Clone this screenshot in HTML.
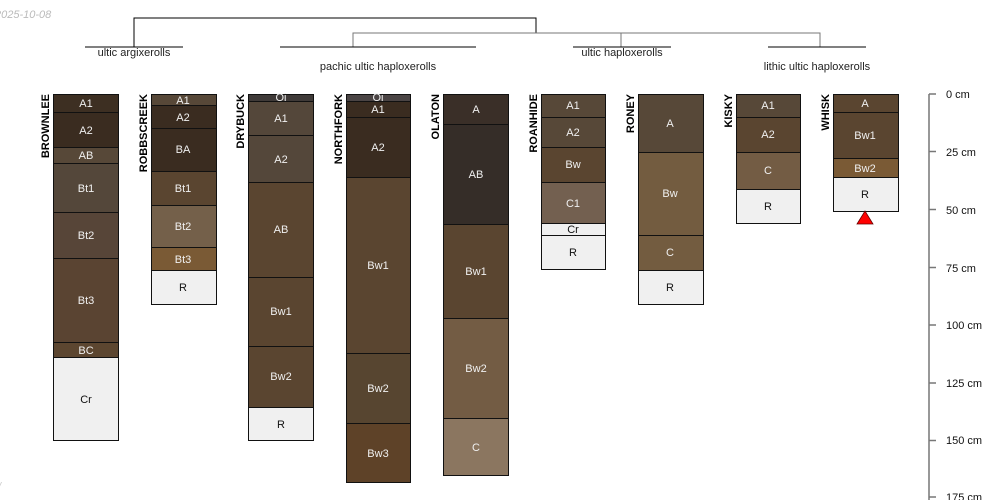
<!DOCTYPE html>
<html><head><meta charset="utf-8"><style>
html,body{margin:0;padding:0;background:#fff;width:1000px;height:500px;overflow:hidden}
svg{display:block;font-family:"Liberation Sans",sans-serif}
.h{font-size:11px;fill:#f0f0f0;text-anchor:middle}
.d{font-size:11px;fill:#111;text-anchor:middle}
.n{font-size:11px;font-weight:bold;fill:#000;text-anchor:end}
.g{font-size:11px;fill:#222;text-anchor:middle}
.ax{font-size:11px;fill:#111}
rect{stroke:#111;stroke-width:1}
</style></head><body>
<svg width="1000" height="500" viewBox="0 0 1000 500">
<text x="-5" y="18" style="font-size:11px;font-style:italic;fill:#bbb">2025-10-08</text>
<text x="-2" y="490" style="font-size:11px;font-style:italic;fill:#ccc">/</text>
<!-- dendrogram -->
<g fill="none" stroke-width="1">
<path d="M134,47V18H536V33" stroke="#000"/>
<path d="M353,47V33H820V47" stroke="#777"/>
<path d="M621,47V33" stroke="#777"/>
<path d="M85,47H183M280,47H476M573,47H671M768,47H866" stroke="#000"/>
</g>
<text class="g" x="134" y="56">ultic argixerolls</text>
<text class="g" x="378" y="70">pachic ultic haploxerolls</text>
<text class="g" x="622" y="56">ultic haploxerolls</text>
<text class="g" x="817" y="70">lithic ultic haploxerolls</text>

<!-- BROWNLEE -->
<g>
<rect x="53.5" y="94.5" width="65" height="18" fill="#3d2f22"/>
<rect x="53.5" y="112.5" width="65" height="35" fill="#3a2c20"/>
<rect x="53.5" y="147.5" width="65" height="16" fill="#574838"/>
<rect x="53.5" y="163.5" width="65" height="49" fill="#54473a"/>
<rect x="53.5" y="212.5" width="65" height="46" fill="#574538"/>
<rect x="53.5" y="258.5" width="65" height="84" fill="#5a4432"/>
<rect x="53.5" y="342.5" width="65" height="15" fill="#5c4630"/>
<rect x="53.5" y="357.5" width="65" height="83" fill="#f0f0f0"/>
<text class="h" x="86" y="107">A1</text><text class="h" x="86" y="134">A2</text><text class="h" x="86" y="159">AB</text>
<text class="h" x="86" y="192">Bt1</text><text class="h" x="86" y="239">Bt2</text><text class="h" x="86" y="304">Bt3</text>
<text class="h" x="86" y="354">BC</text><text class="d" x="86" y="403">Cr</text>
<text class="n" transform="translate(49,94) rotate(-90)">BROWNLEE</text>
</g>
<!-- ROBBSCREEK -->
<g>
<rect x="151.5" y="94.5" width="65" height="11" fill="#574838"/>
<rect x="151.5" y="105.5" width="65" height="23" fill="#3a2c20"/>
<rect x="151.5" y="128.5" width="65" height="43" fill="#3a2c20"/>
<rect x="151.5" y="171.5" width="65" height="34" fill="#5a4530"/>
<rect x="151.5" y="205.5" width="65" height="42" fill="#74604a"/>
<rect x="151.5" y="247.5" width="65" height="23" fill="#7a5a35"/>
<rect x="151.5" y="270.5" width="65" height="34" fill="#f0f0f0"/>
<text class="h" x="183" y="104">A1</text><text class="h" x="183" y="121">A2</text><text class="h" x="183" y="153">BA</text>
<text class="h" x="183" y="192">Bt1</text><text class="h" x="183" y="230">Bt2</text><text class="h" x="183" y="263">Bt3</text>
<text class="d" x="183" y="291">R</text>
<text class="n" transform="translate(147,94) rotate(-90)">ROBBSCREEK</text>
</g>
<!-- DRYBUCK -->
<g>
<rect x="248.5" y="94.5" width="65" height="7" fill="#3f3a38"/>
<rect x="248.5" y="101.5" width="65" height="34" fill="#54473a"/>
<rect x="248.5" y="135.5" width="65" height="47" fill="#54473a"/>
<rect x="248.5" y="182.5" width="65" height="95" fill="#5a4530"/>
<rect x="248.5" y="277.5" width="65" height="69" fill="#5a4530"/>
<rect x="248.5" y="346.5" width="65" height="61" fill="#5a4530"/>
<rect x="248.5" y="407.5" width="65" height="33" fill="#f0f0f0"/>
<text class="h" x="281" y="101">Oi</text><text class="h" x="281" y="122">A1</text><text class="h" x="281" y="163">A2</text>
<text class="h" x="281" y="233">AB</text><text class="h" x="281" y="315">Bw1</text><text class="h" x="281" y="380">Bw2</text>
<text class="d" x="281" y="428">R</text>
<text class="n" transform="translate(244,94) rotate(-90)">DRYBUCK</text>
</g>
<!-- NORTHFORK -->
<g>
<rect x="346.5" y="94.5" width="64" height="7" fill="#4a4444"/>
<rect x="346.5" y="101.5" width="64" height="16" fill="#3a2c20"/>
<rect x="346.5" y="117.5" width="64" height="60" fill="#3a2c20"/>
<rect x="346.5" y="177.5" width="64" height="176" fill="#5a4530"/>
<rect x="346.5" y="353.5" width="64" height="70" fill="#574530"/>
<rect x="346.5" y="423.5" width="64" height="59" fill="#5e4228"/>
<text class="h" x="378" y="101">Oi</text><text class="h" x="378" y="113">A1</text><text class="h" x="378" y="151">A2</text>
<text class="h" x="378" y="269">Bw1</text><text class="h" x="378" y="392">Bw2</text><text class="h" x="378" y="457">Bw3</text>
<text class="n" transform="translate(342,94) rotate(-90)">NORTHFORK</text>
</g>
<!-- OLATON -->
<g>
<rect x="443.5" y="94.5" width="65" height="30" fill="#3a2f28"/>
<rect x="443.5" y="124.5" width="65" height="100" fill="#352d28"/>
<rect x="443.5" y="224.5" width="65" height="94" fill="#5a4530"/>
<rect x="443.5" y="318.5" width="65" height="100" fill="#735c44"/>
<rect x="443.5" y="418.5" width="65" height="57" fill="#8b7660"/>
<text class="h" x="476" y="113">A</text><text class="h" x="476" y="178">AB</text><text class="h" x="476" y="275">Bw1</text>
<text class="h" x="476" y="372">Bw2</text><text class="h" x="476" y="451">C</text>
<text class="n" transform="translate(439,94) rotate(-90)">OLATON</text>
</g>
<!-- ROANHIDE -->
<g>
<rect x="541.5" y="94.5" width="64" height="23" fill="#574838"/>
<rect x="541.5" y="117.5" width="64" height="30" fill="#574838"/>
<rect x="541.5" y="147.5" width="64" height="35" fill="#5a4530"/>
<rect x="541.5" y="182.5" width="64" height="41" fill="#736050"/>
<rect x="541.5" y="223.5" width="64" height="12" fill="#f0f0f0"/>
<rect x="541.5" y="235.5" width="64" height="34" fill="#f0f0f0"/>
<text class="h" x="573" y="109">A1</text><text class="h" x="573" y="136">A2</text><text class="h" x="573" y="168">Bw</text>
<text class="h" x="573" y="207">C1</text><text class="d" x="573" y="233">Cr</text><text class="d" x="573" y="256">R</text>
<text class="n" transform="translate(537,94) rotate(-90)">ROANHIDE</text>
</g>
<!-- RONEY -->
<g>
<rect x="638.5" y="94.5" width="65" height="58" fill="#574838"/>
<rect x="638.5" y="152.5" width="65" height="83" fill="#735c40"/>
<rect x="638.5" y="235.5" width="65" height="35" fill="#735c40"/>
<rect x="638.5" y="270.5" width="65" height="34" fill="#f0f0f0"/>
<text class="h" x="670" y="127">A</text><text class="h" x="670" y="197">Bw</text><text class="h" x="670" y="256">C</text>
<text class="d" x="670" y="291">R</text>
<text class="n" transform="translate(634,94) rotate(-90)">RONEY</text>
</g>
<!-- KISKY -->
<g>
<rect x="736.5" y="94.5" width="64" height="23" fill="#574838"/>
<rect x="736.5" y="117.5" width="64" height="35" fill="#5a4530"/>
<rect x="736.5" y="152.5" width="64" height="37" fill="#735c44"/>
<rect x="736.5" y="189.5" width="64" height="34" fill="#f0f0f0"/>
<text class="h" x="768" y="109">A1</text><text class="h" x="768" y="138">A2</text><text class="h" x="768" y="174">C</text>
<text class="d" x="768" y="210">R</text>
<text class="n" transform="translate(732,94) rotate(-90)">KISKY</text>
</g>
<!-- WHISK -->
<g>
<rect x="833.5" y="94.5" width="65" height="18" fill="#5a4530"/>
<rect x="833.5" y="112.5" width="65" height="46" fill="#5a4530"/>
<rect x="833.5" y="158.5" width="65" height="19" fill="#7a5a35"/>
<rect x="833.5" y="177.5" width="65" height="34" fill="#f0f0f0"/>
<text class="h" x="865" y="107">A</text><text class="h" x="865" y="139">Bw1</text><text class="h" x="865" y="172">Bw2</text>
<text class="d" x="865" y="198">R</text>
<polygon points="857,224 873,224 865,211" fill="#ff0000" stroke="#600" stroke-width="0.8"/>
<text class="n" transform="translate(829,94) rotate(-90)">WHISK</text>
</g>
<!-- axis -->
<g stroke="#777" stroke-width="1.5">
<line x1="929" y1="94" x2="929" y2="500"/>
<line x1="929" y1="94" x2="936" y2="94"/><line x1="929" y1="151.5" x2="936" y2="151.5"/>
<line x1="929" y1="209.5" x2="936" y2="209.5"/><line x1="929" y1="267.5" x2="936" y2="267.5"/>
<line x1="929" y1="325" x2="936" y2="325"/><line x1="929" y1="383" x2="936" y2="383"/>
<line x1="929" y1="440.5" x2="936" y2="440.5"/><line x1="929" y1="497" x2="936" y2="497"/>
</g>
<text class="ax" x="946" y="98">0 cm</text><text class="ax" x="946" y="156">25 cm</text>
<text class="ax" x="946" y="214">50 cm</text><text class="ax" x="946" y="272">75 cm</text>
<text class="ax" x="946" y="329">100 cm</text><text class="ax" x="946" y="387">125 cm</text>
<text class="ax" x="946" y="444">150 cm</text><text class="ax" x="946" y="501">175 cm</text>
</svg>
</body></html>
